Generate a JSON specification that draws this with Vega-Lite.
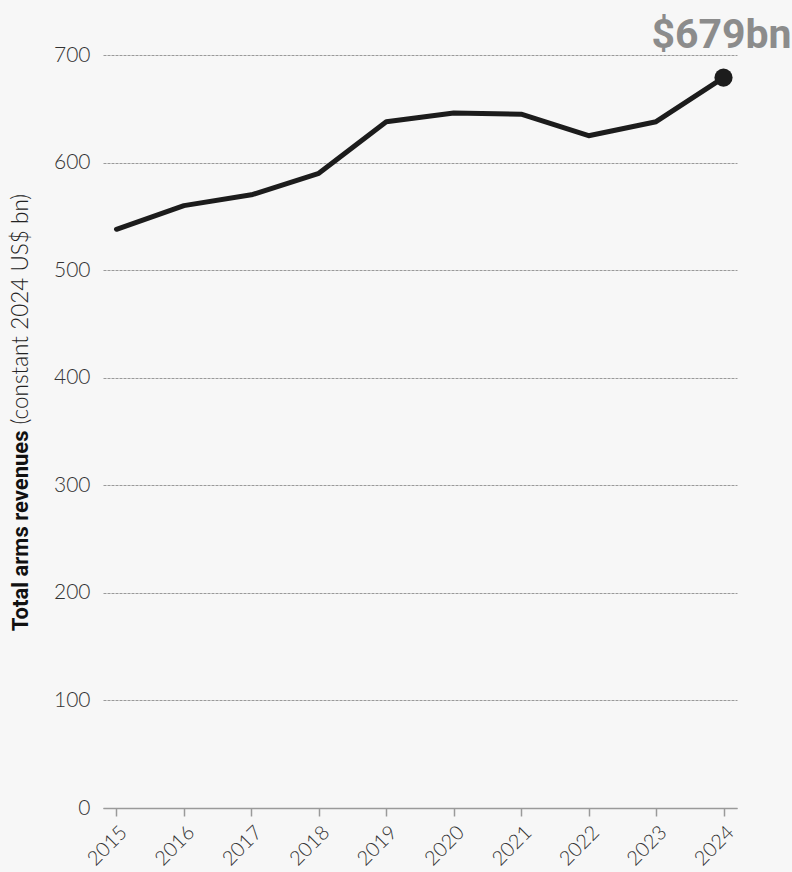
{
  "$schema": "https://vega.github.io/schema/vega-lite/v6.json",
  "width": 634,
  "height": 753,
  "autosize": {"type": "none"},
  "padding": {"left": 103, "top": 55, "right": 55, "bottom": 64},
  "background": "#f7f7f7",
  "config": {
    "view": {"stroke": null},
    "axis": {"labelFont": "Lato", "labelColor": "#333333"}
  },
  "data": {
    "values": [
      {"year": "2015", "value": 538},
      {"year": "2016", "value": 560},
      {"year": "2017", "value": 570},
      {"year": "2018", "value": 590},
      {"year": "2019", "value": 638},
      {"year": "2020", "value": 646},
      {"year": "2021", "value": 645},
      {"year": "2022", "value": 625},
      {"year": "2023", "value": 638},
      {"year": "2024", "value": 679}
    ]
  },
  "layer": [
    {
      "layer": [
        {
          "mark": {"type": "line", "color": "#1c1c1c", "strokeWidth": 5, "strokeJoin": "round", "strokeCap": "round"},
          "encoding": {}
        },
        {
          "transform": [{"filter": "datum.year == '2024'"}],
          "mark": {"type": "point", "filled": true, "color": "#1c1c1c", "size": 330, "opacity": 1},
          "encoding": {}
        },
        {
          "transform": [{"filter": "datum.year == '2024'"}],
          "mark": {"type": "text", "text": "$679bn", "font": "Roboto", "fontWeight": "bold", "fontSize": 41, "color": "#8c8c8c", "align": "center", "baseline": "alphabetic", "dy": -30, "dx": -2},
          "encoding": {}
        }
      ],
      "encoding": {
        "x": {
          "field": "year",
          "type": "ordinal",
          "scale": {"type": "point", "padding": 0.2},
          "axis": {
            "title": null,
            "labelAngle": -45,
            "labelFontSize": 20,
            "labelFontWeight": 300,
            "labelPadding": 6,
            "domainColor": "#9a9a9a",
            "domainWidth": 1.5,
            "tickColor": "#9a9a9a",
            "tickWidth": 1.5,
            "tickSize": 8,
            "grid": false
          }
        },
        "y": {
          "field": "value",
          "type": "quantitative",
          "scale": {"domain": [0, 700], "nice": false},
          "axis": {
            "values": [0, 100, 200, 300, 400, 500, 600, 700],
            "title": "Total arms revenues",
            "titleFont": "Roboto",
            "titleFontWeight": "bold",
            "titleFontSize": 22,
            "titleColor": "#111111",
            "titleAngle": 270,
            "titleAlign": "right",
            "titleBaseline": "middle",
            "titleX": -83,
            "titleY": 375,
            "labelFontSize": 21,
            "labelFontWeight": 300,
            "labelPadding": 13,
            "domain": false,
            "ticks": false,
            "grid": true,
            "gridColor": "#9a9a9a",
            "gridWidth": 1,
            "gridDash": [3, 1]
          }
        }
      }
    },
    {
      "mark": {"type": "point", "opacity": 0},
      "encoding": {
        "x": {"field": "year", "type": "ordinal", "scale": {"type": "point", "padding": 0.2}},
        "y": {
          "field": "value",
          "type": "quantitative",
          "scale": {"domain": [0, 700], "nice": false},
          "axis": {
            "orient": "left",
            "title": "(constant 2024 US$ bn)",
            "titleFont": "Lato",
            "titleFontWeight": 300,
            "titleFontSize": 22.5,
            "titleColor": "#222222",
            "titleAngle": 270,
            "titleAlign": "left",
            "titleBaseline": "middle",
            "titleX": -83,
            "titleY": 369,
            "labels": false,
            "ticks": false,
            "domain": false,
            "grid": false
          }
        }
      }
    }
  ],
  "resolve": {"axis": {"y": "independent"}}
}
